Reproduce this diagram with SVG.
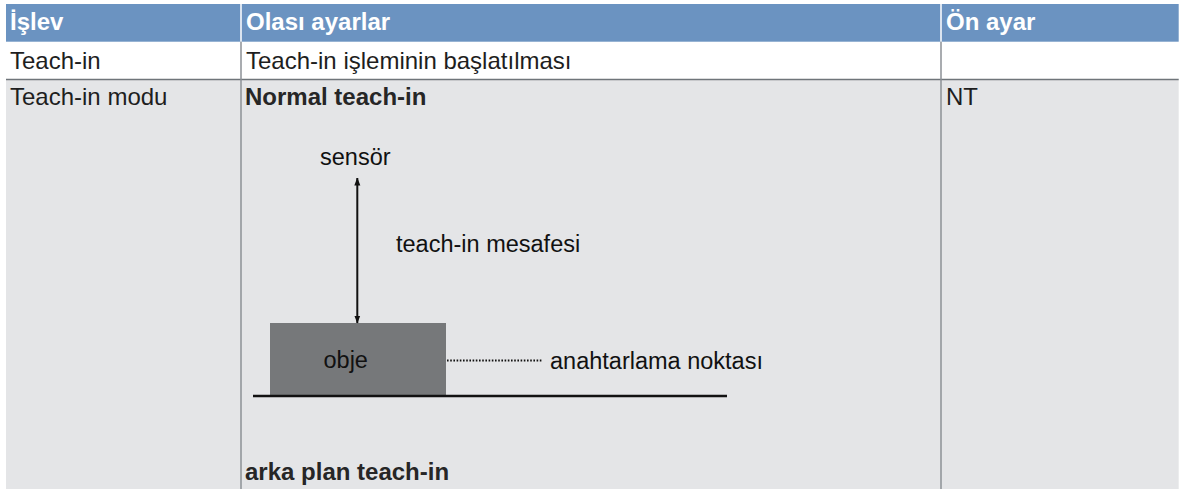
<svg xmlns="http://www.w3.org/2000/svg" width="1195" height="489" viewBox="0 0 1195 489">
<style>
text{font-family:"Liberation Sans",Arial,Helvetica,sans-serif;font-size:24px;fill:#1e1e1e}
.h{font-weight:bold;fill:#ffffff}
.b{font-weight:bold;fill:#262626}
.d{font-size:23.5px;fill:#111}
.vl{stroke:#8c9196;stroke-width:1.5}
</style>
<defs>
<marker id="ah" viewBox="0 0 8 8" refX="7.5" refY="4" markerWidth="8" markerHeight="8" markerUnits="userSpaceOnUse" orient="auto-start-reverse">
<path d="M0,1 L8,4 L0,7 Z" fill="#111"/>
</marker>
</defs>
<rect width="1195" height="489" fill="#ffffff"/>
<g id="table">
<rect x="6" y="4" width="1172.7" height="37.7" fill="#6b93c1"/>
<line x1="241" y1="4" x2="241" y2="41.7" stroke="#ffffff" stroke-width="1.5"/>
<line x1="941" y1="4" x2="941" y2="41.7" stroke="#ffffff" stroke-width="1.5"/>
<rect x="6" y="79" width="1172.7" height="410" fill="#e4e5e7"/>
<line x1="6" y1="79.5" x2="1178.7" y2="79.5" stroke="#6f757a" stroke-width="1.5"/>
<line class="vl" x1="241" y1="41.7" x2="241" y2="489"/>
<line class="vl" x1="941" y1="41.7" x2="941" y2="489"/>
<text class="h" x="10" y="30">İşlev</text>
<text class="h" x="246" y="30">Olası ayarlar</text>
<text class="h" x="946" y="30">Ön ayar</text>
<text x="10" y="69">Teach-in</text>
<text x="246" y="69">Teach-in işleminin başlatılması</text>
<text x="10" y="105">Teach-in modu</text>
<text class="b" x="245" y="105">Normal teach-in</text>
<text x="946" y="105">NT</text>
<text class="b" x="245" y="480">arka plan teach-in</text>
</g>
<g id="sensor"><text class="d" x="320" y="165">sensör</text></g>
<g id="distance-label"><text class="d" x="396" y="252">teach-in mesafesi</text></g>
<g id="object">
<rect x="270" y="323" width="176" height="74" fill="#76787a"/>
<text class="d" x="323.5" y="368">obje</text>
</g>
<g id="ground"><line x1="253" y1="396" x2="727" y2="396" stroke="#111" stroke-width="2.5"/></g>
<g id="switch-point"><text class="d" x="550" y="369">anahtarlama noktası</text></g>
<g id="connectors">
<line x1="357.3" y1="178" x2="357.3" y2="323" stroke="#111" stroke-width="2" marker-start="url(#ah)" marker-end="url(#ah)"/>
<line x1="447" y1="360.5" x2="542" y2="360.5" stroke="#111" stroke-width="2" stroke-dasharray="1.6 1.6"/>
</g>
</svg>
